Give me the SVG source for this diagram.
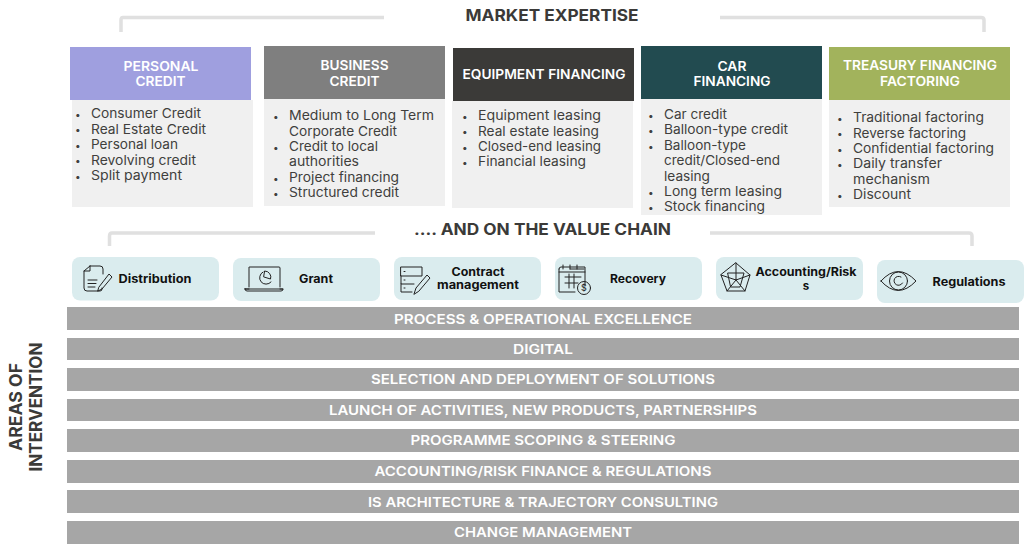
<svg xmlns="http://www.w3.org/2000/svg" width="1024" height="549" viewBox="0 0 1024 549">
<style>
text{font-family:"Inter","Open Sans","Liberation Sans",sans-serif}
.h{font-size:13px;font-weight:600;fill:#fff;text-anchor:middle}
.b{font-size:13px;fill:#403f3d}
.d{font-size:10px}
.body{fill:#f0f0f0}
.br{fill:none;stroke:#e0e0e0;stroke-width:3.5}
.t{font-size:15.5px;font-weight:700;fill:#3b3a38;text-anchor:middle}
.pill{fill:#daecee}
.l{font-size:11.5px;font-weight:700;fill:#111;text-anchor:middle}
.bar{fill:#a6a6a6}
.bt{font-size:13.5px;font-weight:600;fill:#fff;text-anchor:middle}
.i{fill:none;stroke:#222;stroke-width:1;stroke-linejoin:round;stroke-linecap:round}
</style>
<g id="connectors">
<path class="br" d="M384 17.500H123Q121 17.500 121 20V32"/>
<path class="br" d="M720 17.500H981Q984 17.500 984 20V32"/>
<path class="br" d="M375 233H112Q109.500 233 109.500 236V246"/>
<path class="br" d="M710 233H969Q972 233 972 236V246"/>
</g>
<text class="t" x="552" y="20.500" textLength="173" lengthAdjust="spacingAndGlyphs">MARKET EXPERTISE</text>
<text class="t" x="542.500" y="235" textLength="257" lengthAdjust="spacingAndGlyphs">.... AND ON THE VALUE CHAIN</text>

<g id="card-personal">
<rect class="body" x="72" y="100" width="181" height="107"/>
<rect x="70" y="47" width="181" height="53" fill="#9f9fdf"/>
<text class="h" x="161" y="71" textLength="75" lengthAdjust="spacingAndGlyphs">PERSONAL</text>
<text class="h" x="160.500" y="86" textLength="50" lengthAdjust="spacingAndGlyphs">CREDIT</text>
<g class="b">
<text class="d" x="75" y="117.500">•</text><text x="91" y="118" textLength="110" lengthAdjust="spacingAndGlyphs">Consumer Credit</text>
<text class="d" x="75" y="133">•</text><text x="91" y="133.500" textLength="115" lengthAdjust="spacingAndGlyphs">Real Estate Credit</text>
<text class="d" x="75" y="148.500">•</text><text x="91" y="149" textLength="87" lengthAdjust="spacingAndGlyphs">Personal loan</text>
<text class="d" x="75" y="164">•</text><text x="91" y="164.500" textLength="105" lengthAdjust="spacingAndGlyphs">Revolving credit</text>
<text class="d" x="75" y="179.500">•</text><text x="91" y="180" textLength="91" lengthAdjust="spacingAndGlyphs">Split payment</text>
</g>
</g>

<g id="card-business">
<rect class="body" x="264" y="99" width="181" height="107"/>
<rect x="264" y="46" width="181" height="53" fill="#7f7f7f"/>
<text class="h" x="354.500" y="70" textLength="68" lengthAdjust="spacingAndGlyphs">BUSINESS</text>
<text class="h" x="354.500" y="86" textLength="50" lengthAdjust="spacingAndGlyphs">CREDIT</text>
<g class="b">
<text class="d" x="273" y="119.500">•</text><text x="289" y="120" textLength="145" lengthAdjust="spacingAndGlyphs">Medium to Long Term</text>
<text x="289" y="135.500" textLength="108" lengthAdjust="spacingAndGlyphs">Corporate Credit</text>
<text class="d" x="273" y="150.500">•</text><text x="289" y="151" textLength="89" lengthAdjust="spacingAndGlyphs">Credit to local</text>
<text x="289" y="166" textLength="70" lengthAdjust="spacingAndGlyphs">authorities</text>
<text class="d" x="273" y="181.500">•</text><text x="289" y="182" textLength="110" lengthAdjust="spacingAndGlyphs">Project financing</text>
<text class="d" x="273" y="196.500">•</text><text x="289" y="197" textLength="110" lengthAdjust="spacingAndGlyphs">Structured credit</text>
</g>
</g>

<g id="card-equipment">
<rect class="body" x="452" y="101" width="181" height="107"/>
<rect x="453" y="48" width="181" height="53" fill="#3b3a38"/>
<text class="h" x="544" y="79" textLength="163" lengthAdjust="spacingAndGlyphs">EQUIPMENT FINANCING</text>
<g class="b">
<text class="d" x="462" y="119.500">•</text><text x="478" y="120" textLength="123" lengthAdjust="spacingAndGlyphs">Equipment leasing</text>
<text class="d" x="462" y="135">•</text><text x="478" y="135.500" textLength="121" lengthAdjust="spacingAndGlyphs">Real estate leasing</text>
<text class="d" x="462" y="150.500">•</text><text x="478" y="151" textLength="123" lengthAdjust="spacingAndGlyphs">Closed-end leasing</text>
<text class="d" x="462" y="165.500">•</text><text x="478" y="166" textLength="108" lengthAdjust="spacingAndGlyphs">Financial leasing</text>
</g>
</g>

<g id="card-car">
<rect class="body" x="641" y="99" width="181" height="116"/>
<rect x="641" y="46" width="181" height="53" fill="#224b50"/>
<text class="h" x="732" y="70.500" textLength="29" lengthAdjust="spacingAndGlyphs">CAR</text>
<text class="h" x="732" y="86" textLength="77" lengthAdjust="spacingAndGlyphs">FINANCING</text>
<g class="b">
<text class="d" x="648" y="118.500">•</text><text x="664" y="119" textLength="63" lengthAdjust="spacingAndGlyphs">Car credit</text>
<text class="d" x="648" y="133.500">•</text><text x="664" y="134" textLength="124" lengthAdjust="spacingAndGlyphs">Balloon-type credit</text>
<text class="d" x="648" y="149.500">•</text><text x="664" y="150" textLength="82" lengthAdjust="spacingAndGlyphs">Balloon-type</text>
<text x="664" y="165" textLength="116" lengthAdjust="spacingAndGlyphs">credit/Closed-end</text>
<text x="664" y="181" textLength="46" lengthAdjust="spacingAndGlyphs">leasing</text>
<text class="d" x="648" y="195.500">•</text><text x="664" y="196" textLength="118" lengthAdjust="spacingAndGlyphs">Long term leasing</text>
<text class="d" x="648" y="210.500">•</text><text x="664" y="211" textLength="101" lengthAdjust="spacingAndGlyphs">Stock financing</text>
</g>
</g>

<g id="card-treasury">
<rect class="body" x="829" y="100" width="181" height="107"/>
<rect x="829" y="47" width="181" height="53" fill="#a2b35c"/>
<text class="h" x="920" y="70" textLength="154" lengthAdjust="spacingAndGlyphs">TREASURY FINANCING</text>
<text class="h" x="920" y="86" textLength="80" lengthAdjust="spacingAndGlyphs">FACTORING</text>
<g class="b">
<text class="d" x="837" y="121.500">•</text><text x="853" y="122" textLength="131" lengthAdjust="spacingAndGlyphs">Traditional factoring</text>
<text class="d" x="837" y="137">•</text><text x="853" y="137.500" textLength="113" lengthAdjust="spacingAndGlyphs">Reverse factoring</text>
<text class="d" x="837" y="152.500">•</text><text x="853" y="153" textLength="141" lengthAdjust="spacingAndGlyphs">Confidential factoring</text>
<text class="d" x="837" y="167.500">•</text><text x="853" y="168" textLength="89" lengthAdjust="spacingAndGlyphs">Daily transfer</text>
<text x="853" y="184" textLength="77" lengthAdjust="spacingAndGlyphs">mechanism</text>
<text class="d" x="837" y="198.500">•</text><text x="853" y="199" textLength="58" lengthAdjust="spacingAndGlyphs">Discount</text>
</g>
</g>

<g id="step-distribution">
<rect class="pill" x="72" y="257" width="147" height="43.500" rx="8"/>
<path class="i" d="M90 266H100Q103 266 103 269V274M90 266L84 271V288Q84 291 87 291H100Q102 291 102 289V288M90 266V271H84M88 280H97M88 283.500H96M88 287H95M99 287L109 274L112 277L102 289L98 291Z"/>
<text class="l" x="155" y="283" textLength="73" lengthAdjust="spacingAndGlyphs">Distribution</text>
</g>
<g id="step-grant">
<rect class="pill" x="233" y="258" width="147" height="43" rx="8"/>
<path class="i" d="M249 287V267Q249 267 251 267H279Q280 267 280 268V287M245 289H283Q283 291 281 291H247Q245 291 245 289ZM245 289H249M280 289H283"/>
<path class="i" d="M263 272A6.500 6.500 0 1 0 271 282M265 271A6 6 0 0 1 270.500 279L264 277Z"/>
<text class="l" x="316" y="283" textLength="34" lengthAdjust="spacingAndGlyphs">Grant</text>
</g>
<g id="step-contract">
<rect class="pill" x="394" y="257" width="147" height="43" rx="8"/>
<path class="i" d="M401 267H422V276H401ZM401 276V284H414M401 284V292H412M404 271.500H405M404 280H405M404 288H405M414 294L416 288L427 275L430 278L419 291Z"/>
<text class="l" x="478" y="276" textLength="53" lengthAdjust="spacingAndGlyphs">Contract</text>
<text class="l" x="478" y="289" textLength="82" lengthAdjust="spacingAndGlyphs">management</text>
</g>
<g id="step-recovery">
<rect class="pill" x="555" y="257" width="147" height="43" rx="8"/>
<path class="i" d="M570 269H584M559 269Q559 267 561 267H585V286M559 269V292H575M559 272H585M563 265V269M570 265V269M577 265V269M565 277H581M565 283H578M569 274V288M574 274V288"/>
<circle class="i" cx="584" cy="288" r="6.500"/>
<text x="584" y="291" font-size="9" text-anchor="middle" fill="#222">$</text>
<text class="l" x="638" y="283" textLength="56" lengthAdjust="spacingAndGlyphs">Recovery</text>
</g>
<g id="step-accounting">
<rect class="pill" x="716" y="257" width="147" height="43" rx="8"/>
<path class="i" d="M736 263L750 275L745 291H727L721 275ZM736 263V280M721 275L736 280M750 275L736 280M727 291L736 280M745 291L736 280M728 273L744 273L740 287L731 287Z"/>
<text class="l" x="806" y="276" textLength="101" lengthAdjust="spacingAndGlyphs">Accounting/Risk</text>
<text class="l" x="806" y="290">s</text>
</g>
<g id="step-regulations">
<rect class="pill" x="877" y="260" width="147" height="43" rx="8"/>
<path class="i" d="M881 281Q898 262 916 281Q898 300 881 281Z" stroke-width="1.300"/>
<circle class="i" cx="898.500" cy="281" r="9"/>
<path class="i" d="M901 277A4.500 4.500 0 1 0 902.500 283"/>
<text class="l" x="969" y="286" textLength="73" lengthAdjust="spacingAndGlyphs">Regulations</text>
</g>

<g id="bars">
<g id="bar-1"><rect class="bar" x="67" y="307" width="952" height="23"/><text class="bt" x="543" y="323.500" textLength="298" lengthAdjust="spacingAndGlyphs">PROCESS &amp; OPERATIONAL EXCELLENCE</text></g>
<g id="bar-2"><rect class="bar" x="67" y="338" width="952" height="22"/><text class="bt" x="543" y="353.500" textLength="60" lengthAdjust="spacingAndGlyphs">DIGITAL</text></g>
<g id="bar-3"><rect class="bar" x="67" y="368" width="952" height="23"/><text class="bt" x="543" y="384" textLength="344" lengthAdjust="spacingAndGlyphs">SELECTION AND DEPLOYMENT OF SOLUTIONS</text></g>
<g id="bar-4"><rect class="bar" x="67" y="399" width="952" height="22"/><text class="bt" x="543" y="414.500" textLength="428" lengthAdjust="spacingAndGlyphs">LAUNCH OF ACTIVITIES, NEW PRODUCTS, PARTNERSHIPS</text></g>
<g id="bar-5"><rect class="bar" x="67" y="429" width="952" height="23"/><text class="bt" x="543" y="445" textLength="265" lengthAdjust="spacingAndGlyphs">PROGRAMME SCOPING &amp; STEERING</text></g>
<g id="bar-6"><rect class="bar" x="67" y="460" width="952" height="23"/><text class="bt" x="543" y="476" textLength="337" lengthAdjust="spacingAndGlyphs">ACCOUNTING/RISK FINANCE &amp; REGULATIONS</text></g>
<g id="bar-7"><rect class="bar" x="67" y="490" width="952" height="23"/><text class="bt" x="543" y="506.500" textLength="350" lengthAdjust="spacingAndGlyphs">IS ARCHITECTURE &amp; TRAJECTORY CONSULTING</text></g>
<g id="bar-8"><rect class="bar" x="67" y="521" width="952" height="23"/><text class="bt" x="543" y="537" textLength="178" lengthAdjust="spacingAndGlyphs">CHANGE MANAGEMENT</text></g>
</g>

<g id="label-areas" transform="translate(22 407) rotate(-90)">
<text x="0" y="0" font-size="17" font-weight="700" fill="#3b3a38" text-anchor="middle" textLength="88" lengthAdjust="spacingAndGlyphs">AREAS OF</text>
<text x="0" y="20" font-size="17" font-weight="700" fill="#3b3a38" text-anchor="middle" textLength="129" lengthAdjust="spacingAndGlyphs">INTERVENTION</text>
</g>
</svg>
